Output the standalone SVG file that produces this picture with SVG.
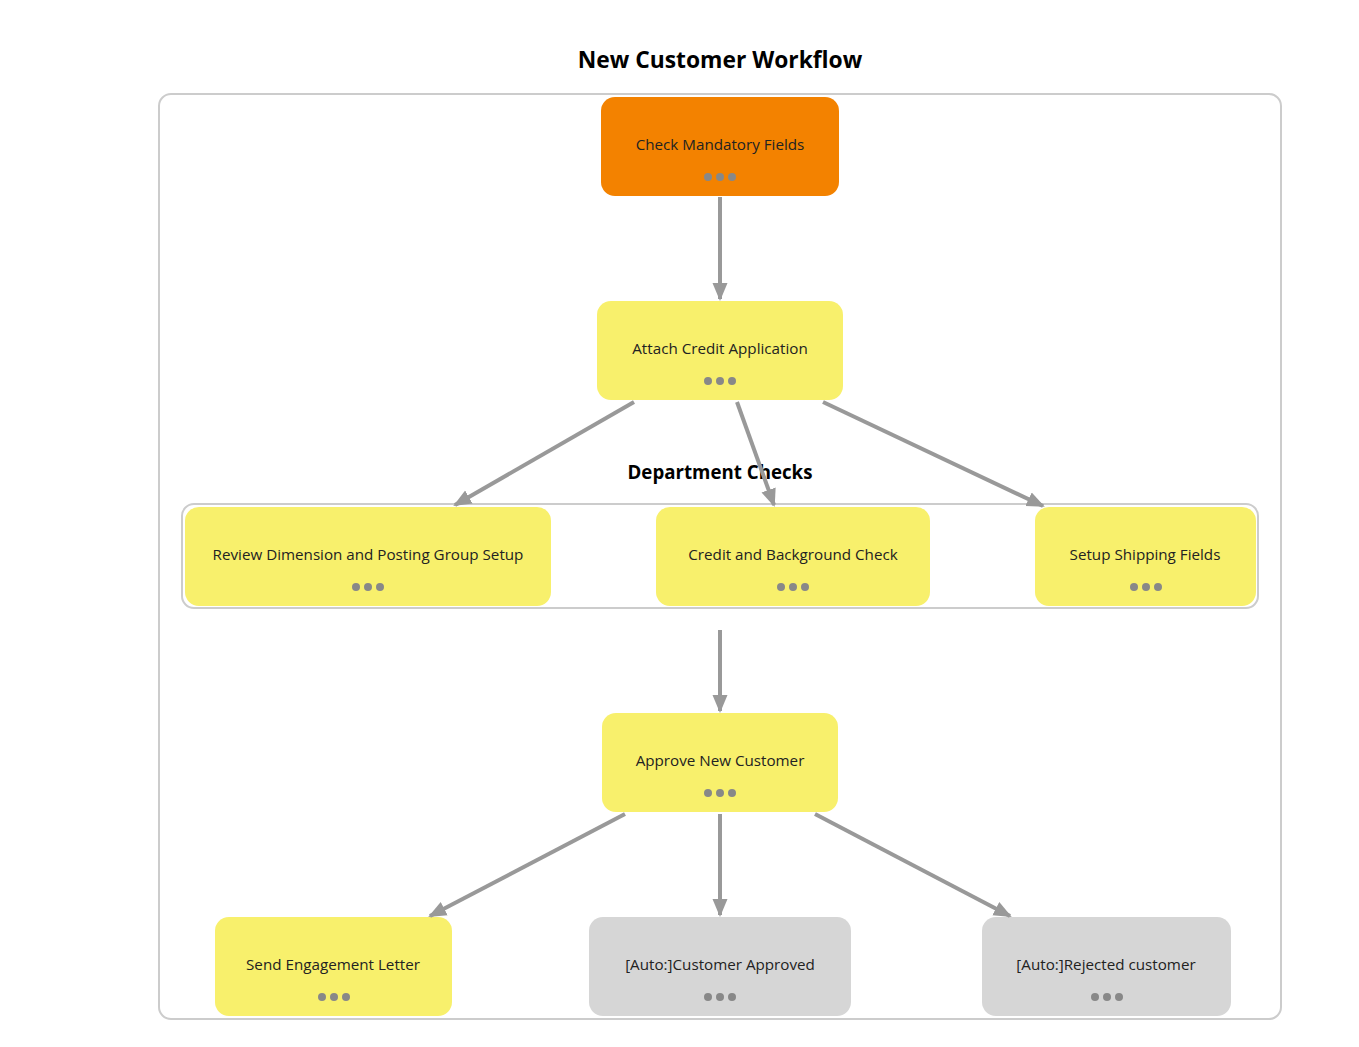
<svg xmlns="http://www.w3.org/2000/svg" width="1359" height="1047" viewBox="0 0 1359 1047">
<defs>
<style>
.title{font-family:"Open Sans","Liberation Sans",sans-serif;font-weight:bold;font-size:22.8px;fill:#000;text-anchor:middle}
.grp{font-family:"Open Sans","Liberation Sans",sans-serif;font-weight:bold;font-size:18.7px;fill:#000;text-anchor:middle}
.lbl{font-family:"Open Sans","Liberation Sans",sans-serif;font-size:15.2px;fill:#222;text-anchor:middle}
.y{fill:#F8F06C}
.o{fill:#F38200}
.g{fill:#D6D6D6}
.dot{fill:#888}
.edge{stroke:#999;stroke-width:4;fill:none;marker-end:url(#arr)}
</style>
<marker id="arr" markerUnits="userSpaceOnUse" markerWidth="18" markerHeight="18" refX="16" refY="9" orient="auto">
<path d="M0,1.5 L18,9 L0,16.5 Z" fill="#999"/>
</marker>
<g id="dots"><circle cx="-12" cy="0" r="4" class="dot"/><circle cx="0" cy="0" r="4" class="dot"/><circle cx="12" cy="0" r="4" class="dot"/></g>
</defs>
<rect width="1359" height="1047" fill="#fff"/>
<text class="title" x="720" y="68">New Customer Workflow</text>
<rect id="container" x="159" y="94" width="1122" height="925" rx="12" fill="none" stroke="#ccc" stroke-width="2"/>
<g id="department-checks">
<rect x="182" y="504" width="1076" height="104" rx="12" fill="none" stroke="#ccc" stroke-width="2"/>
<text class="grp" x="720" y="479">Department Checks</text>
</g>
<g id="n1"><rect class="o" x="601" y="97" width="238" height="99" rx="14"/><text class="lbl" x="720" y="150">Check Mandatory Fields</text><use href="#dots" x="720" y="177"/></g>
<g id="n2"><rect class="y" x="597" y="301" width="246" height="99" rx="14"/><text class="lbl" x="720" y="354">Attach Credit Application</text><use href="#dots" x="720" y="381"/></g>
<g id="n3"><rect class="y" x="185" y="507" width="366" height="99" rx="14"/><text class="lbl" x="368" y="560">Review Dimension and Posting Group Setup</text><use href="#dots" x="368" y="587"/></g>
<g id="n4"><rect class="y" x="656" y="507" width="274" height="99" rx="14"/><text class="lbl" x="793" y="560">Credit and Background Check</text><use href="#dots" x="793" y="587"/></g>
<g id="n5"><rect class="y" x="1035" y="507" width="221" height="99" rx="14"/><text class="lbl" x="1145" y="560">Setup Shipping Fields</text><use href="#dots" x="1146" y="587"/></g>
<g id="n6"><rect class="y" x="602" y="713" width="236" height="99" rx="14"/><text class="lbl" x="720" y="766">Approve New Customer</text><use href="#dots" x="720" y="793"/></g>
<g id="n7"><rect class="y" x="215" y="917" width="237" height="99" rx="14"/><text class="lbl" x="333" y="970">Send Engagement Letter</text><use href="#dots" x="334" y="997"/></g>
<g id="n8"><rect class="g" x="589" y="917" width="262" height="99" rx="14"/><text class="lbl" x="720" y="970">[Auto:]Customer Approved</text><use href="#dots" x="720" y="997"/></g>
<g id="n9"><rect class="g" x="982" y="917" width="249" height="99" rx="14"/><text class="lbl" x="1106" y="970">[Auto:]Rejected customer</text><use href="#dots" x="1107" y="997"/></g>
<g id="connectors">
<line class="edge" x1="720" y1="197" x2="720" y2="299"/>
<line class="edge" x1="634" y1="402" x2="455" y2="505"/>
<line class="edge" x1="737" y1="402" x2="774" y2="505"/>
<line class="edge" x1="823" y1="402" x2="1043" y2="506"/>
<line class="edge" x1="720" y1="630" x2="720" y2="711"/>
<line class="edge" x1="625" y1="814" x2="430" y2="916"/>
<line class="edge" x1="720" y1="814" x2="720" y2="915"/>
<line class="edge" x1="815" y1="814" x2="1010" y2="916"/>
</g>
</svg>
